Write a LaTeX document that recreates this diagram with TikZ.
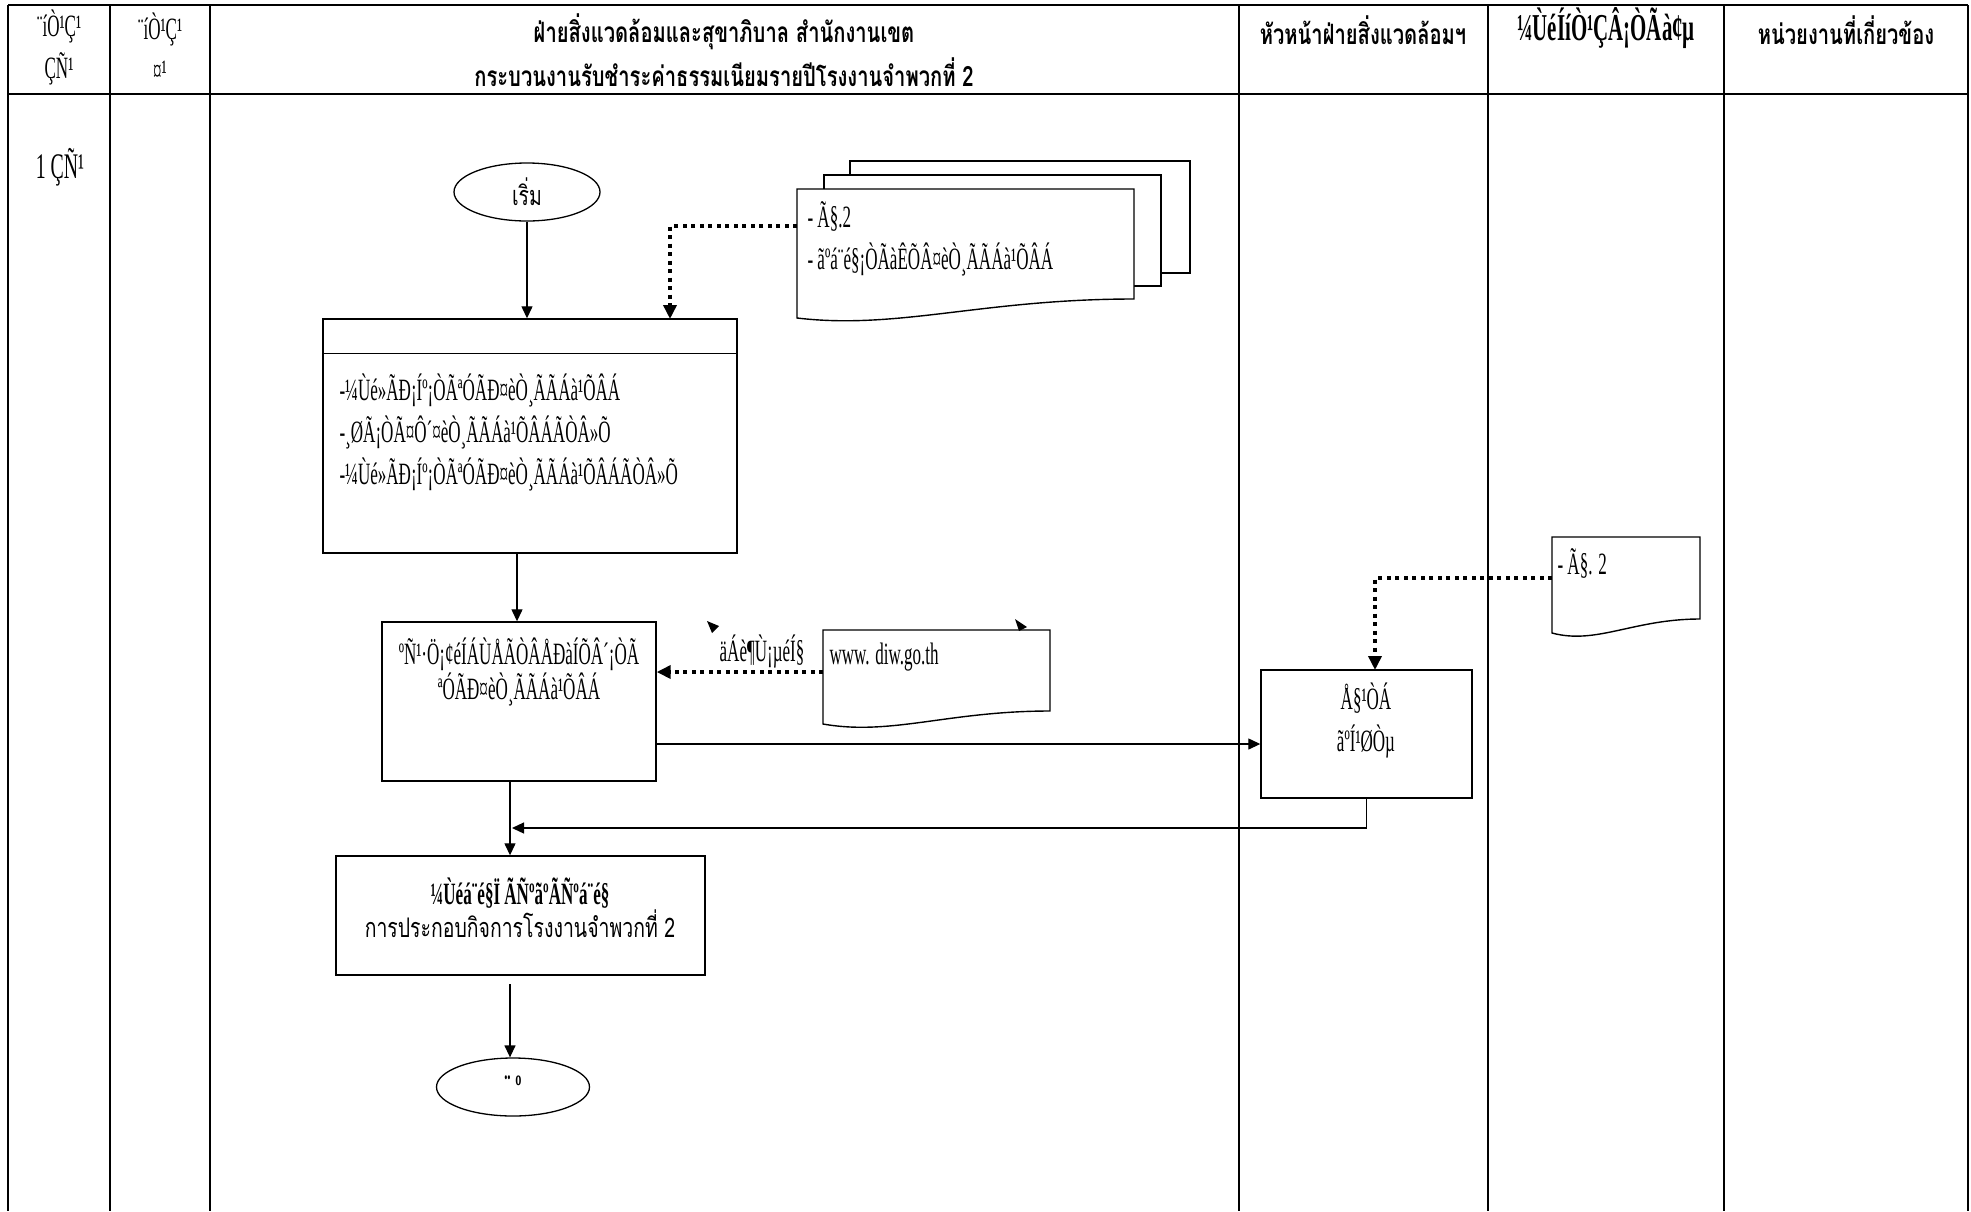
\documentclass[tikz,border=0pt]{standalone}
\usepackage{fontspec}
\usepackage{tikz}
\usetikzlibrary{
	positioning,
	arrows.meta,
	shapes.geometric,
	calc
}
\newfontfamily\thaifont[Script=Thai,FakeStretch=0.72]{Loma}
\newfontfamily\mojifont[FakeStretch=0.55]{Liberation Serif}

% paper sheet with wavy bottom: left, top, right, right bottom, left bottom
\newcommand{\paperdoc}[5]{%
	\draw[boxline,fill=white] (#1,#2) -- (#3,#2) -- (#3,#4)
	.. controls ({#3-0.45*(#3-#1)},#4) and ({#1+0.3*(#3-#1)},{#5+12}) .. (#1,#5) -- cycle;}

\begin{document}
\begin{tikzpicture}[x=1pt,y=-1pt,
	tbl/.style={line width=2.5pt},
	boxline/.style={line width=1.4pt},
	flowbox/.style={draw,rectangle,line width=1.4pt,inner sep=0pt},
	terminal/.style={draw,ellipse,line width=1.3pt,inner sep=0pt},
	arr/.style={line width=1.3pt,-{Triangle[length=12pt,width=11pt]}},
	dotarr/.style={line width=4pt,dash pattern=on 4pt off 4.5pt,-{Triangle[length=14pt,width=13pt]}},
	mojitxt/.style={font=\mojifont\fontsize{31}{42}\selectfont},
	thaitxt/.style={font=\thaifont\fontsize{27}{44}\selectfont},
	thaihead/.style={font=\thaifont\bfseries\fontsize{28}{44}\selectfont,align=center}
	]
	\useasboundingbox (0,0) rectangle (1971,1211);
	
	% swimlane table
	\draw[tbl] (8,5) -- (1968,5);
	\draw[tbl] (8,94) -- (1968,94);
	\foreach \cx in {8,110,210,1239,1488,1724,1968}
	\draw[tbl] (\cx,5) -- (\cx,1211);
	
	\node[mojitxt,align=center] (hdays) at (59,47) {¨íÒ¹Ç¹\\ÇÑ¹};
	\node[mojitxt,align=center] (hstaff) at (160,47) {¨íÒ¹Ç¹\\¤¹};
	\node[thaihead] (hmain) at (724,50)
	{ฝ่ายสิ่งแวดล้อมและสุขาภิบาล สำนักงานเขต\\กระบวนงานรับชำระค่าธรรมเนียมรายปีโรงงานจำพวกที่ 2};
	\node[thaihead] (hhead) at (1363,30) {หัวหน้าฝ่ายสิ่งแวดล้อมฯ};
	\node[font=\mojifont\bfseries\fontsize{38}{40}\selectfont] (hdir) at (1606,28) {¼ÙéÍíÒ¹ÇÂ¡ÒÃà¢µ};
	\node[thaihead] (hunit) at (1846,30) {หน่วยงานที่เกี่ยวข้อง};
	
	\node[font=\mojifont\fontsize{36}{40}\selectfont] (oneday) at (60,167) {1 ÇÑ¹};
	
	% start and fee details
	\node[terminal,thaitxt,minimum width=146pt,minimum height=58pt] (start) at (527,192) {เริ่ม};
	
	\node[flowbox,minimum width=414pt,minimum height=234pt] (box1) at (530,436) {};
	\draw[boxline] ($(box1.north west)+(0,35)$) -- ($(box1.north east)+(0,35)$);
	\node[mojitxt,anchor=west,align=left] (box1txt) at (336,432)
	{-¼Ùé»ÃÐ¡Íº¡ÒÃªÓÃÐ¤èÒ¸ÃÃÁà¹ÕÂÁ\\-¸ØÃ¡ÒÃ¤Ô´¤èÒ¸ÃÃÁà¹ÕÂÁÃÒÂ»Õ\\-¼Ùé»ÃÐ¡Íº¡ÒÃªÓÃÐ¤èÒ¸ÃÃÁà¹ÕÂÁÃÒÂ»Õ};
	
	\draw[arr] (start.south) -- (start.south |- box1.north);
	
	% stack of forms
	\draw[boxline,fill=white] (850,161) rectangle (1190,273);
	\draw[boxline,fill=white] (824,175) rectangle (1161,286);
	\paperdoc{797}{189}{1134}{299}{318}
	\node[mojitxt,anchor=west,align=left] (formtxt) at (804,239)
	{- Ã§.2\\- ãºá¨é§¡ÒÃàÊÕÂ¤èÒ¸ÃÃÁà¹ÕÂÁ};
	\coordinate (formsL) at (797,226);
	\coordinate (drop1) at (670,319);
	\draw[dotarr] (formsL) -| (drop1);
	
	% record payment
	\node[flowbox,minimum width=274pt,minimum height=159pt] (box2) at (519,701.5) {};
	\node[font=\mojifont\fontsize{31}{35}\selectfont,align=center] (box2txt) at (519,672)
	{ºÑ¹·Ö¡¢éÍÁÙÅÃÒÂÅÐàÍÕÂ´¡ÒÃ\\ªÓÃÐ¤èÒ¸ÃÃÁà¹ÕÂÁ};
	\coordinate (b1out) at ($(box1.south)+(-13,0)$);
	\draw[arr] (b1out) -- (b1out |- box2.north);
	
	% web site
	\paperdoc{823}{630}{1050}{711}{724}
	\node[mojitxt,anchor=west] (webtxt) at (826,657) {www. diw.go.th};
	\coordinate (webL) at (823,672);
	\draw[dotarr] (webL) -- (webL -| box2.east);
	\node[mojitxt] (wrong) at (762,651) {äÁè¶Ù¡µéÍ§};
	\fill (707,621) -- (719,626) -- (712,633) -- cycle;
	\fill (1015,619) -- (1027,627) -- (1019,631) -- cycle;
	
	% signing
	\node[flowbox,minimum width=211pt,minimum height=128pt] (sign) at (1366.5,734) {};
	\node[mojitxt,align=center] (signtxt) at (1366,720) {Å§¹ÒÁ\\ãºÍ¹ØÒµ};
	\coordinate (b2out) at ($(box2.east)+(0,42.5)$);
	\draw[arr] (b2out) -- (b2out -| sign.west);
	
	\paperdoc{1552}{537}{1700}{619}{633}
	\node[mojitxt,anchor=west] (form2txt) at (1554,563) {- Ã§. 2};
	\coordinate (form2L) at (1552,578);
	\coordinate (drop2) at (1375,670);
	\draw[dotarr] (form2L) -| (drop2);
	
	% notice to operator
	\node[flowbox,minimum width=369pt,minimum height=119pt] (box3) at (520.5,915.5) {};
	\node[align=center] (box3txt) at (520,908)
	{{\mojifont\bfseries\fontsize{31}{44}\selectfont ¼Ùéá¨é§Ï ÃÑºãºÃÑºá¨é§}\\
		{\thaifont\fontsize{27}{44}\selectfont การประกอบกิจการโรงงานจำพวกที่ 2}};
	\coordinate (b2down) at (510,781);
	\draw[arr] (b2down) -- (b2down |- box3.north);
	\coordinate (joint) at (512,828);
	\draw[arr] (sign.south) |- (joint);
	
	\node[terminal,minimum width=153pt,minimum height=58pt,
	font=\mojifont\bfseries\fontsize{34}{36}\selectfont] (stop) at (513,1087) {¨ º};
	\coordinate (b3down) at (510,984);
	\draw[arr] (b3down) -- (b3down |- stop.north);
	
\end{tikzpicture}
\end{document}
